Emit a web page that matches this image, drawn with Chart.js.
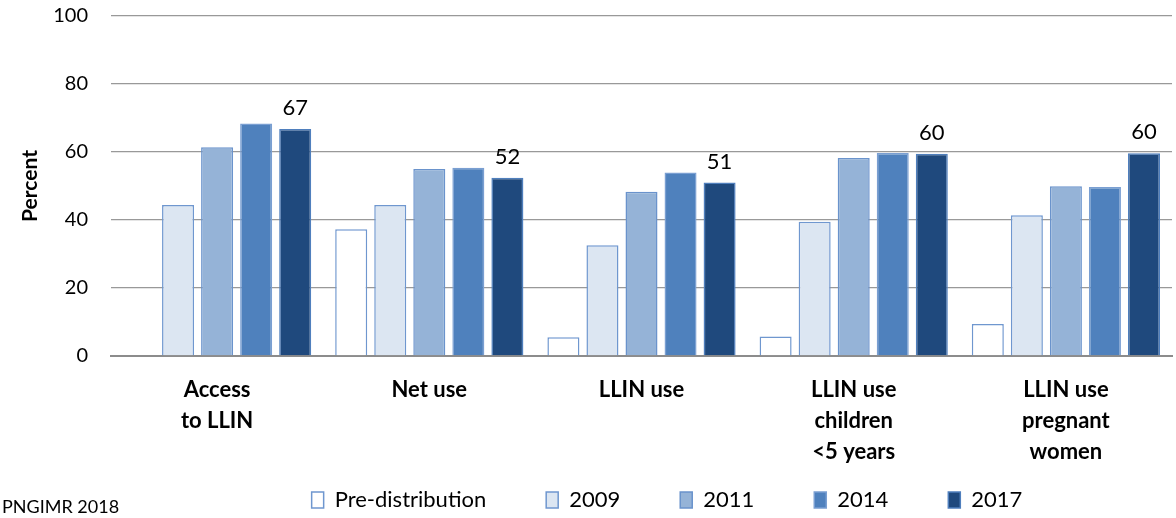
<!DOCTYPE html>
<html>
<head>
<meta charset="utf-8">
<script src="https://cdn.jsdelivr.net/npm/chart.js@4"></script>
<style>
  html, body { margin: 0; padding: 0; background: #fff; }
  #wrap { position: relative; width: 1176px; height: 518px; }
  #src { position: absolute; left: 2px; top: 495px; font: 18px Lato, sans-serif; color: #000; }
</style>
</head>
<body>
<div id="wrap">
  <canvas id="llinChart" width="1176" height="518"></canvas>
  <div id="src">PNGIMR 2018</div>
</div>
<script>
const categories = [
  ['Access', 'to LLIN'],
  'Net use',
  'LLIN use',
  ['LLIN use', 'children', '<5 years'],
  ['LLIN use', 'pregnant', 'women']
];
const seriesNames = ['Pre-distribution', '2009', '2011', '2014', '2017'];
const preDistribution = [null, 37.3, 5.5, 5.7, 9.4];
const y2009 = [44.4, 44.4, 32.6, 39.5, 41.4];
const y2011 = [61.4, 55.0, 48.3, 58.2, 49.9];
const y2014 = [68.4, 55.4, 54.0, 59.7, 49.7];
const y2017 = [66.8, 52.4, 51.0, 59.5, 59.6];
const yTicks = [0, 20, 40, 60, 80, 100];

const fills = ['#ffffff', '#dce6f2', '#95b3d7', '#4f81bd', '#1f497d'];
const borders = ['#6f97cf', '#6f97cf', '#6a93cc', '#7a9fd2', '#4f7fbd'];

const allSeries = [preDistribution, y2009, y2011, y2014, y2017];

// value labels above the 2017 bars only
const lastLabels = {
  id: 'lastLabels',
  afterDatasetsDraw(chart) {
    const c = chart.ctx;
    const meta = chart.getDatasetMeta(4);
    c.save();
    c.font = '22px Lato, sans-serif';
    c.fillStyle = '#000';
    c.textAlign = 'center';
    c.textBaseline = 'bottom';
    meta.data.forEach((bar, i) => {
      c.fillText(Math.round(y2017[i]), bar.x, bar.y - 10);
    });
    c.restore();
  }
};

// let the 3-line category labels run below the x axis box,
// and nudge the legend to the right like the original
const tweakBoxes = {
  id: 'tweakBoxes',
  afterLayout(chart) {
    chart.scales.x.bottom = chart.scales.x.top + 120;
    chart.legend.left += 72;
    chart.legend.right += 72;
  }
};

new Chart(document.getElementById('llinChart').getContext('2d'), {
  type: 'bar',
  data: {
    labels: categories,
    datasets: allSeries.map((d, i) => ({
      label: seriesNames[i],
      data: d,
      backgroundColor: fills[i],
      borderColor: borders[i],
      borderWidth: 1.5,
      categoryPercentage: 0.92,
      barPercentage: 0.82
    }))
  },
  options: {
    responsive: false,
    animation: false,
    layout: { padding: { left: 18, right: 4, top: 0, bottom: -3 } },
    plugins: {
      legend: {
        position: 'bottom',
        labels: {
          font: { family: 'Lato, sans-serif', size: 22 },
          color: '#000',
          boxWidth: 12,
          boxHeight: 16,
          padding: 60
        }
      },
      tooltip: { enabled: false }
    },
    scales: {
      y: {
        min: 0,
        max: 100,
        afterBuildTicks: (axis) => { axis.ticks = yTicks.map(v => ({ value: v })); },
        afterFit: (axis) => { axis.width = 93; },
        title: {
          display: true,
          text: 'Percent',
          font: { family: 'Lato, sans-serif', size: 21, weight: 'bold' },
          color: '#000',
          padding: 0
        },
        ticks: {
          font: { family: 'Lato, sans-serif', size: 20 },
          color: '#000',
          padding: 4
        },
        grid: { color: '#999', lineWidth: 1.3, drawTicks: true, tickLength: 19, tickColor: 'rgba(0,0,0,0)' },
        border: { display: false }
      },
      x: {
        afterFit: (axis) => { axis.height = 73; },
        ticks: {
          font: { family: 'Lato, sans-serif', size: 22, weight: 'bold', lineHeight: 1.41 },
          color: '#000',
          maxRotation: 0,
          padding: 10
        },
        grid: { display: false },
        border: { color: '#8c8c8c', width: 2 }
      }
    }
  },
  plugins: [lastLabels, tweakBoxes]
});
</script>
</body>
</html>
